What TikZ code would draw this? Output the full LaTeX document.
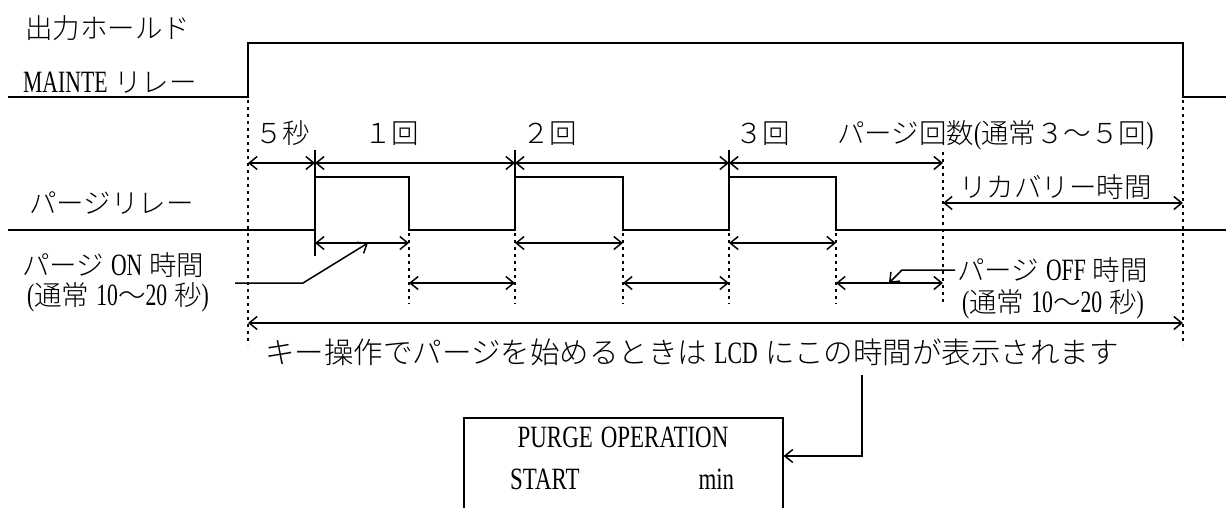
\documentclass[tikz,border=0pt]{standalone}
\usepackage{fontspec}
\usepackage{graphicx}
\setmainfont{Noto Sans CJK JP Light}
\newfontfamily\latfont{Liberation Serif}
\newcommand\lat[1]{\scalebox{0.7}[1]{\latfont\fontsize{31}{33}\selectfont #1}}
\newcommand\bx[1]{\scalebox{0.74}[1]{\latfont\fontsize{31}{33}\selectfont #1}}
\newcommand\js{\hspace{0.25em}}
\usetikzlibrary{arrows.meta}
\begin{document}
\begin{tikzpicture}[x=1pt,y=-1pt,
  wave/.style={line width=2.2pt, line join=miter},
  thinv/.style={line width=1.5pt},
  dim/.style={line width=1.5pt, {Straight Barb[length=8pt,width=13pt]}-{Straight Barb[length=8pt,width=13pt]}},
  guide/.style={line width=2pt, dash pattern=on 3pt off 4pt},
  lead/.style={line width=1.5pt, line join=miter, -{Straight Barb[length=8pt,width=13pt]}},
  lbl/.style={inner sep=0pt, anchor=west, font=\fontsize{27.5}{30}\selectfont, text height=24pt, text depth=3.5pt},
  bigl/.style={inner sep=0pt, anchor=west, font=\fontsize{29.5}{32}\selectfont, text height=26pt, text depth=3.8pt},
  boxt/.style={inner sep=0pt, text height=21pt, text depth=3pt}
]
\useasboundingbox (0,0) rectangle (1226,507);
\clip (0,0) rectangle (1226,507);

% labels
\node[lbl] (hold) at (25,28) {出力ホールド};
\node[lbl] (mainte) at (23,82) {\lat{MAINTE}\js リレー};
\node[lbl] (s5) at (255,133) {５秒};
\node[lbl] (k1) at (364,133) {１回};
\node[lbl] (k2) at (522,133) {２回};
\node[lbl] (k3) at (735,133) {３回};
\node[lbl] (cnt) at (837,133) {パージ回数\lat{(}通常３～５回\lat{)}};
\node[lbl] (rec) at (959,187) {リカバリー時間};
\node[lbl] (prl) at (29,203) {パージリレー};
\node[lbl] (onl) at (22,265) {パージ\js\lat{ON}\js 時間};
\node[lbl] (onr) at (27,295) {\lat{(}通常\js\lat{10}～\lat{20}\js 秒\lat{)}};
\node[lbl] (offl) at (957,270) {パージ\js\lat{OFF}\js 時間};
\node[lbl] (offr) at (962,302) {\lat{(}通常\js\lat{10}～\lat{20}\js 秒\lat{)}};
\node[bigl] (note) at (265,352) {キー操作でパージを始めるときは\js\lat{LCD}\js にこの時間が表示されます};

% MAINTE relay waveform
\draw[wave] (8,97) -- (248,97) -- (248,43) -- (1183,43) -- (1183,97) -- (1226,97);
% purge relay waveform
\draw[wave] (8,230) -- (315,230) -- (315,177) -- (409,177) -- (409,230) -- (515,230) -- (515,177)
  -- (623,177) -- (623,230) -- (729,230) -- (729,177) -- (836,177) -- (836,230) -- (1226,230);
\draw[wave] (315,230) -- (315,256);

% tick lines above pulses
\foreach \x in {315,515,729} \draw[thinv] (\x,150) -- (\x,177);

% dotted guides
\draw[guide] (248,100) -- (248,345);
\draw[guide] (1183,100) -- (1183,345);
\draw[guide] (943,152) -- (943,304);
\foreach \x in {409,515,623,729,836} \draw[guide] (\x,233) -- (\x,304);

% coordinates
\foreach \n/\x in {a0/248,a1/315,a2/515,a3/729,a4/943} \coordinate (\n) at (\x,163);
\foreach \n/\x in {n1/315,n2/409,n3/515,n4/623,n5/729,n6/836} \coordinate (\n) at (\x,243);
\foreach \n/\x in {f1/409,f2/515,f3/623,f4/729,f5/836,f6/943} \coordinate (\n) at (\x,283);
\coordinate (r0) at (943,203); \coordinate (r1) at (1183,203);
\coordinate (b0) at (248,323); \coordinate (b1) at (1183,323);

% dimension arrows
\draw[dim] (a0) -- (a1);
\draw[dim] (a1) -- (a2);
\draw[dim] (a2) -- (a3);
\draw[dim] (a3) -- (a4);
\draw[dim] (r0) -- (r1);
\draw[dim] (n1) -- (n2);
\draw[dim] (n3) -- (n4);
\draw[dim] (n5) -- (n6);
\draw[dim] (f1) -- (f2);
\draw[dim] (f3) -- (f4);
\draw[dim] (f5) -- (f6);
\draw[dim] (b0) -- (b1);

% leaders
\coordinate (onA) at (235,283); \coordinate (onB) at (303,283); \coordinate (onC) at (368,243);
\draw[lead] (onA) -- (onB) -- (onC);
\coordinate (ofA) at (955,270); \coordinate (ofB) at (902,270); \coordinate (ofC) at (889,283);
\draw[lead] (ofA) -- (ofB) -- (ofC);

% LCD box
\node[draw, line width=1.6pt, anchor=north west, minimum width=319pt, minimum height=120pt, inner sep=0pt] (lcd) at (463,417) {};
\node[boxt] (purge) at (623,438) {\bx{PURGE}\hspace{8pt}\bx{OPERATION}};
\node[boxt, anchor=west] (start) at (510,480) {\makebox[224pt][s]{\bx{START}\hfill\bx{min}}};

\coordinate (mA) at (862,375); \coordinate (mB) at (862,456);
\draw[lead] (mA) -- (mB) -- (lcd.east |- mB);
\end{tikzpicture}
\end{document}
